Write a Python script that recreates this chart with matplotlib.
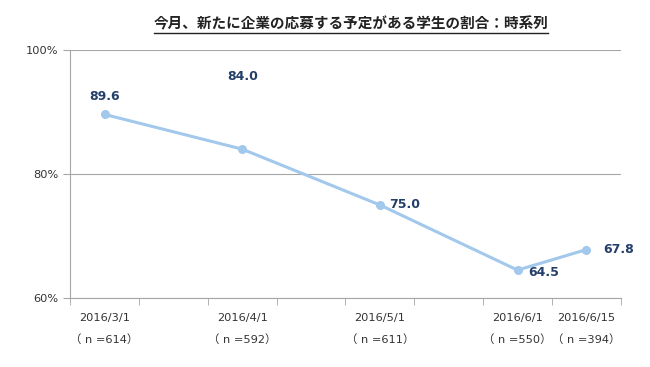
import matplotlib
matplotlib.use("Agg")
import matplotlib.pyplot as plt
from matplotlib.lines import Line2D
from matplotlib.ticker import FixedLocator, FuncFormatter

plt.rcParams['font.family'] = ['DejaVu Sans', 'Noto Sans CJK JP']

# data
title = "今月、新たに企業の応募する予定がある学生の割合：時系列"
dates = ["2016/3/1", "2016/4/1", "2016/5/1", "2016/6/1", "2016/6/15"]
sample_n = [614, 592, 611, 550, 394]
rates = [89.6, 84.0, 75.0, 64.5, 67.8]

# half-month slots from 2016/3/1 (Excel category axis)
def slot(d):
    _, m, day = (int(v) for v in d.split("/"))
    return (m - 3) * 2 + (1 if day > 1 else 0)

xs = [slot(d) for d in dates]

fig = plt.figure(figsize=(6.5, 3.67), dpi=100)
ax = fig.add_axes([0.108, 0.188, 0.847, 0.676])

line_c = "#A2C8EC"
label_c = "#243F69"
grid_c = "#A6A6A6"

ax.plot(xs, rates, color=line_c, lw=2.2, marker="o", ms=5.5, zorder=3)

# data labels (offsets in points, label centres)
offsets = [(0, 13, "center"), (0, 52, "center"), (7, 0, "left"),
           (8, -1.5, "left"), (12, 0, "left")]
for x, y, (dx, dy, ha) in zip(xs, rates, offsets):
    ax.annotate(f"{y:.1f}", (x, y), xytext=(dx, dy), textcoords="offset points",
                ha=ha, va="center", fontsize=9, fontweight="bold", color=label_c)

ax.set_xlim(-0.5, 7.5)
ax.set_ylim(60, 100)
ax.set_yticks([60, 80, 100])
ax.yaxis.set_major_formatter(FuncFormatter(lambda v, p: f"{v:.0f}%"))
ax.grid(axis="y", color=grid_c, lw=0.8)
ax.set_axisbelow(True)

ax.set_xticks(xs)
ax.set_xticklabels([f"{d}\n（ n ={n}）" for d, n in zip(dates, sample_n)],
                   linespacing=2.2)
ax.xaxis.set_minor_locator(FixedLocator([i - 0.5 for i in range(9)]))
ax.tick_params(axis="x", which="major", length=0, pad=11)
ax.tick_params(axis="x", which="minor", length=5, color=grid_c)
ax.tick_params(axis="y", length=5, color=grid_c)
ax.tick_params(labelsize=8.2, labelcolor="#333333")

for s in ["top", "right"]:
    ax.spines[s].set_visible(False)
for s in ["left", "bottom"]:
    ax.spines[s].set_color(grid_c)
    ax.spines[s].set_linewidth(0.8)

t = fig.text(0.54, 0.937, title, ha="center", va="center",
             fontsize=10.5, fontweight="bold", color="#222222",
             family=['Noto Sans CJK JP', 'DejaVu Sans'])

# underline the title
fig.canvas.draw()
bb = t.get_window_extent().transformed(fig.transFigure.inverted())
fig.add_artist(Line2D([bb.x0, bb.x1], [bb.y0 - 0.004, bb.y0 - 0.004],
                      transform=fig.transFigure, color="#222222", lw=1))

fig.savefig("out.png", dpi=100)
